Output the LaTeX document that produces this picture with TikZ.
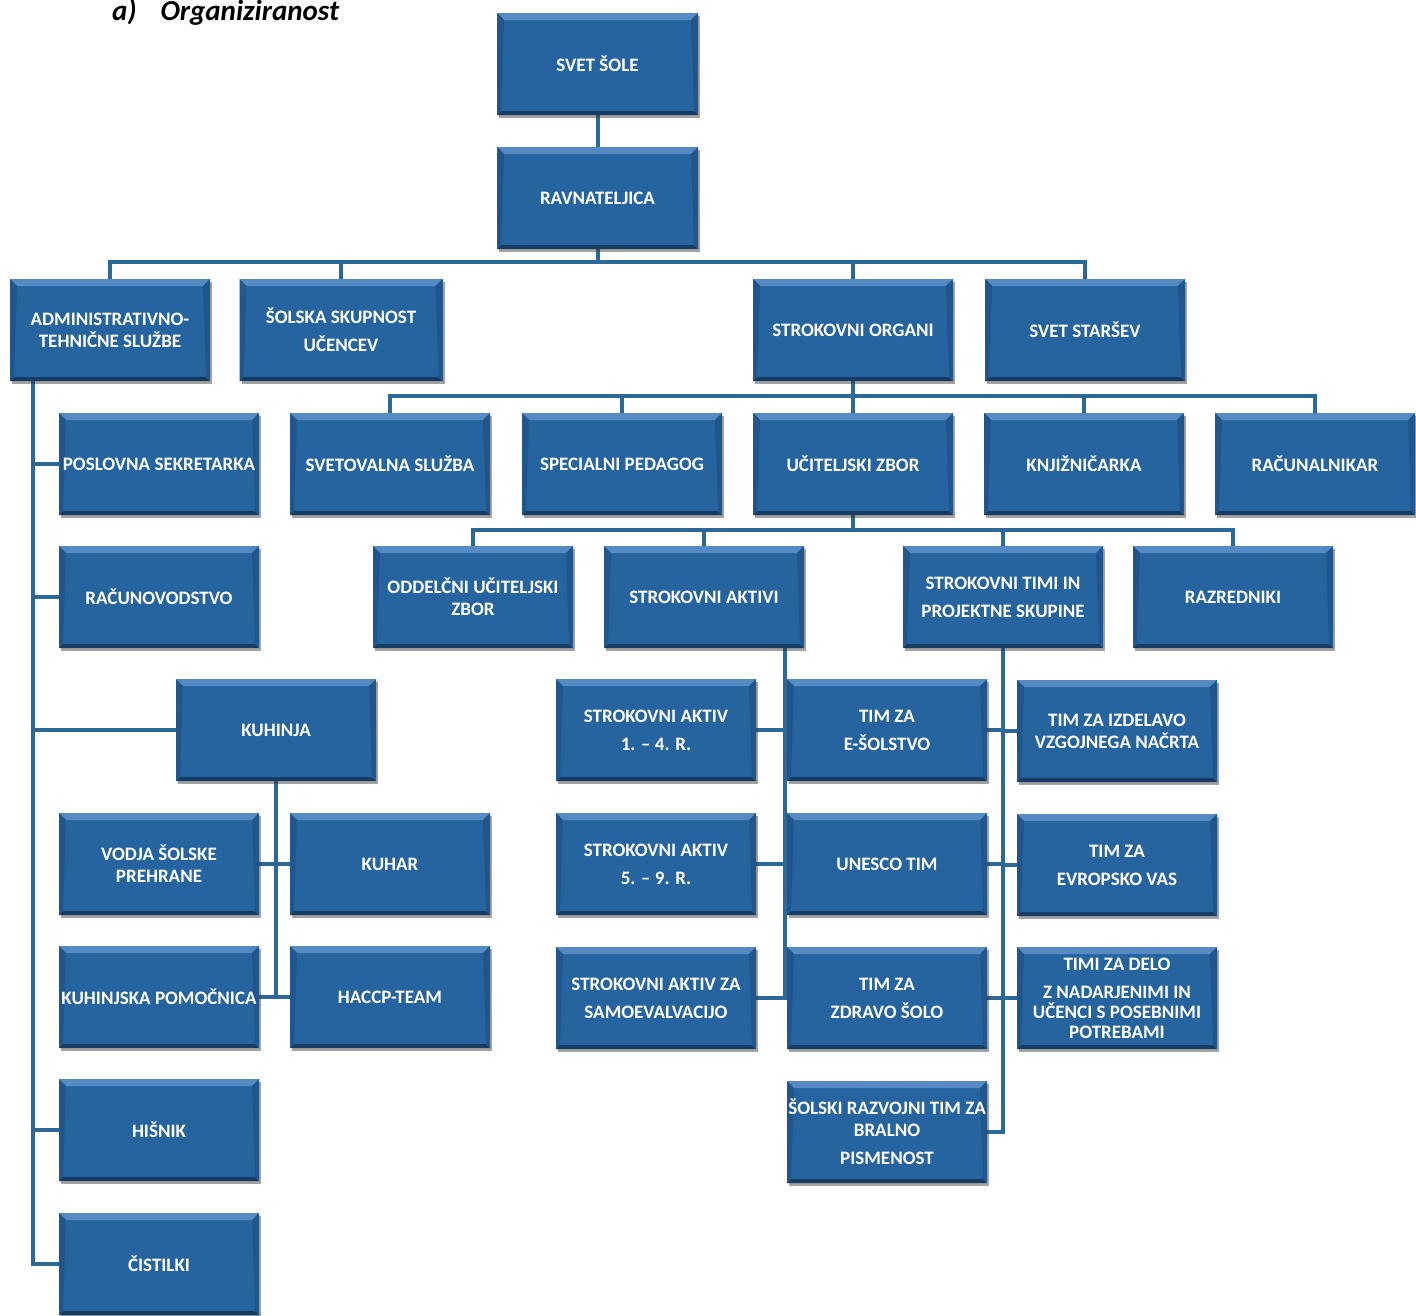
\documentclass[tikz,border=0pt]{standalone}
\usepackage{fontspec}
\setmainfont{Carlito}
\usetikzlibrary{shadows,backgrounds,calc}
\definecolor{boxblue}{RGB}{38,100,160}
\definecolor{boxlight}{RGB}{86,138,194}
\definecolor{boxdark}{RGB}{22,60,100}
\definecolor{boxside}{RGB}{32,86,140}
\definecolor{linkblue}{RGB}{44,104,152}
\newcommand{\boxfont}{\fontsize{19}{22}\selectfont\bfseries}
\tikzset{
  orgbox/.style={rectangle, fill=boxblue, text=white, font=\boxfont, align=center,
    minimum width=200pt, minimum height=102pt, inner sep=1pt,
    drop shadow={shadow xshift=2pt, shadow yshift=-3pt, fill=black!80, opacity=0.45},
    path picture={
      \fill[boxlight] (path picture bounding box.north west) -- (path picture bounding box.north east)
        -- ([xshift=-7pt,yshift=-7pt]path picture bounding box.north east)
        -- ([xshift=7pt,yshift=-7pt]path picture bounding box.north west) -- cycle;
      \fill[boxdark] (path picture bounding box.south west) -- (path picture bounding box.south east)
        -- ([xshift=-4pt,yshift=4pt]path picture bounding box.south east)
        -- ([xshift=4pt,yshift=4pt]path picture bounding box.south west) -- cycle;
      \fill[boxside] (path picture bounding box.north east) -- (path picture bounding box.south east)
        -- ([xshift=-4pt,yshift=4pt]path picture bounding box.south east)
        -- ([xshift=-7pt,yshift=-7pt]path picture bounding box.north east) -- cycle;
      \fill[boxside] (path picture bounding box.north west) -- (path picture bounding box.south west)
        -- ([xshift=4pt,yshift=4pt]path picture bounding box.south west)
        -- ([xshift=7pt,yshift=-7pt]path picture bounding box.north west) -- cycle;
    }},
  link/.style={draw=linkblue, line width=4pt},
  titletext/.style={font=\fontsize{29}{32}\selectfont\bfseries\itshape, anchor=base west, inner sep=0pt}
}
\begin{document}
\begin{tikzpicture}[x=1pt,y=-1pt]
\useasboundingbox (0,0) rectangle (1416,1315);

\node[titletext] (title) at (112,20) {a)\hspace{24pt}Organiziranost};

% level 0-1
\node[orgbox, minimum width=201pt] (svet) at (597.5,64) {SVET ŠOLE};
\node[orgbox, minimum width=201pt] (ravn) at (597.5,198) {RAVNATELJICA};
% level 2
\node[orgbox] (admin) at (110,330) {ADMINISTRATIVNO-\\TEHNIČNE SLUŽBE};
\node[orgbox, minimum width=203pt] (ssu) at (341,330) {ŠOLSKA SKUPNOST\\[6pt]UČENCEV};
\node[orgbox] (sorg) at (853,330) {STROKOVNI ORGANI};
\node[orgbox] (sstar) at (1085,330) {SVET STARŠEV};
% level 3
\node[orgbox] (posl) at (159,464) {POSLOVNA SEKRETARKA};
\node[orgbox] (svetov) at (390,464) {SVETOVALNA SLUŽBA};
\node[orgbox] (spec) at (622,464) {SPECIALNI PEDAGOG};
\node[orgbox] (uz) at (853,464) {UČITELJSKI ZBOR};
\node[orgbox] (knj) at (1084,464) {KNJIŽNIČARKA};
\node[orgbox] (rac) at (1315,464) {RAČUNALNIKAR};
% level 4
\node[orgbox] (racun) at (159,597) {RAČUNOVODSTVO};
\node[orgbox] (oddel) at (473,597) {ODDELČNI UČITELJSKI\\ZBOR};
\node[orgbox] (sakt) at (704,597) {STROKOVNI AKTIVI};
\node[orgbox] (stimi) at (1003,597) {STROKOVNI TIMI IN\\[6pt]PROJEKTNE SKUPINE};
\node[orgbox] (razr) at (1233,597) {RAZREDNIKI};
% kitchen
\node[orgbox] (kuh) at (276,730) {KUHINJA};
\node[orgbox] (vodja) at (159,864) {VODJA ŠOLSKE\\PREHRANE};
\node[orgbox] (kuhar) at (390,864) {KUHAR};
\node[orgbox] (kpom) at (159,997) {KUHINJSKA POMOČNICA};
\node[orgbox] (haccp) at (390,997) {HACCP-TEAM};
\node[orgbox] (hisnik) at (159,1130) {HIŠNIK};
\node[orgbox] (cist) at (159,1264) {ČISTILKI};
% aktivi
\node[orgbox] (sa14) at (656,730) {STROKOVNI AKTIV\\[6pt]1. – 4. R.};
\node[orgbox] (sa59) at (656,864) {STROKOVNI AKTIV\\[6pt]5. – 9. R.};
\node[orgbox] (sasam) at (656,998) {STROKOVNI AKTIV ZA\\[6pt]SAMOEVALVACIJO};
% timi
\node[orgbox] (te) at (887,730) {TIM ZA\\[6pt]E-ŠOLSTVO};
\node[orgbox] (unesco) at (887,864) {UNESCO TIM};
\node[orgbox] (zdravo) at (887,998) {TIM ZA\\[6pt]ZDRAVO ŠOLO};
\node[orgbox] (bral) at (887,1132) {ŠOLSKI RAZVOJNI TIM ZA\\BRALNO\\[6pt]PISMENOST};
\node[orgbox] (izd) at (1117,731) {TIM ZA IZDELAVO\\VZGOJNEGA NAČRTA};
\node[orgbox] (evr) at (1117,865) {TIM ZA\\[6pt]EVROPSKO VAS};
\node[orgbox] (delo) at (1117,998) {TIMI ZA DELO\\[6pt]Z NADARJENIMI IN\\[-2pt]UČENCI S POSEBNIMI\\[-2pt]POTREBAMI};

\begin{scope}[on background layer]
  \fill[white] (0,0) rectangle (1416,1315);
  \draw[link] (svet.south) -- (ravn.north);
  \coordinate (b1) at (597.5,262);
  \draw[link] (ravn.south) -- (b1);
  \foreach \n in {admin,ssu,sorg,sstar} \draw[link] (\n.north) |- (b1);
  \coordinate (b2) at (853,396);
  \draw[link] (sorg.south) -- (b2);
  \foreach \n in {svetov,spec,uz,knj,rac} \draw[link] (\n.north) |- (b2);
  \coordinate (b3) at (853,530);
  \draw[link] (uz.south) -- (b3);
  \foreach \n in {oddel,sakt,stimi,razr} \draw[link] (\n.north) |- (b3);
  \coordinate (ls) at ([xshift=23pt]admin.south west);
  \foreach \n in {posl,racun,kuh,hisnik,cist} \draw[link] (ls) |- (\n.west);
  \draw[link] (kuh.south) |- (vodja.east);
  \draw[link] (kuh.south) |- (kuhar.west);
  \draw[link] (kuh.south) |- (kpom.east);
  \draw[link] (kuh.south) |- (haccp.west);
  \coordinate (as) at ([xshift=-19pt]sakt.south east);
  \foreach \n in {sa14,sa59,sasam} \draw[link] (as) |- (\n.east);
  \foreach \n in {te,unesco,zdravo,bral} \draw[link] (stimi.south) |- (\n.east);
  \foreach \n in {izd,evr,delo} \draw[link] (stimi.south) |- (\n.west);
\end{scope}
\end{tikzpicture}
\end{document}
